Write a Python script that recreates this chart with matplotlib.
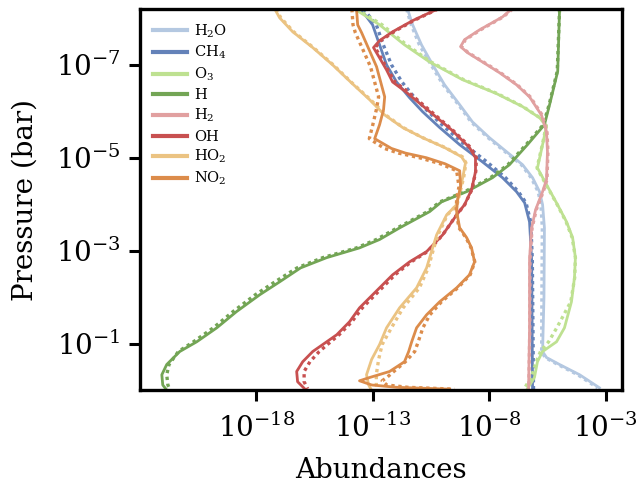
import numpy as np
import matplotlib
matplotlib.use("Agg")
import matplotlib.pyplot as plt
from matplotlib.ticker import FixedLocator, LogFormatterMathtext, NullLocator

plt.rcParams['font.family'] = 'DejaVu Serif'
plt.rcParams['mathtext.fontset'] = 'dejavuserif'

# species and colours (legend order)
species = ['H2O', 'CH4', 'O3', 'H', 'H2', 'OH', 'HO2', 'NO2']
labels = [r'$\mathrm{H_2O}$', r'$\mathrm{CH_4}$', r'$\mathrm{O_3}$', r'$\mathrm{H}$',
          r'$\mathrm{H_2}$', r'$\mathrm{OH}$', r'$\mathrm{HO_2}$', r'$\mathrm{NO_2}$']
colors = ['#b4c8e1', '#6482b9', '#bee191', '#73a555',
          '#e1a0a0', '#c85050', '#ebc382', '#dc8c4b']

# log10 pressure (bar) and log10 abundance
# solid = model 1, dotted = model 2
h2o_p = [-8.2, -7.86, -7.43, -7.0, -6.57, -6.14, -5.77, -5.43, -5.13, -4.85, -4.57, -4.27, -3.99, -3.49, -2.0, -0.83, -0.70, -0.55, -0.33, -0.05]
h2o_a = [-11.51, -11.29, -10.91, -10.43, -9.92, -9.27, -8.72, -7.99, -7.26, -6.57, -6.14, -5.84, -5.71, -5.63, -5.65, -5.71, -5.54, -4.98, -4.12, -3.27]
h2o_b = [-11.55, -11.35, -11.0, -10.5, -9.98, -9.32, -8.78, -8.05, -7.32, -6.62, -6.2, -5.9, -5.78, -5.72, -5.74, -5.75, -5.6, -5.05, -4.2, -3.35]

ch4_p = [-8.2, -7.86, -7.43, -7.0, -6.63, -6.29, -5.99, -5.65, -5.28, -4.91, -4.57, -4.27, -4.03, -3.62, -2.81, -0.05, 0.0]
ch4_a = [-13.52, -13.01, -12.71, -12.41, -11.98, -11.42, -10.86, -10.13, -9.27, -8.29, -7.43, -6.83, -6.48, -6.27, -6.18, -6.14, -6.14]
ch4_b = [-13.4, -12.85, -12.55, -12.2, -11.75, -11.2, -10.62, -9.9, -9.05, -8.1, -7.3, -6.75, -6.42, -6.22, -6.15, -6.1, -6.1]

o3_p = [-8.2, -7.86, -7.43, -7.06, -6.68, -6.38, -6.10, -5.86, -5.69, -5.28, -4.78, -4.42, -3.99, -3.62, -3.28, -2.85, -2.42, -1.90, -1.34, -1.04, -0.83, -0.61, -0.27, -0.03]
o3_a = [-13.78, -12.71, -11.64, -10.56, -9.15, -7.69, -6.57, -5.84, -5.54, -5.71, -5.93, -5.54, -5.07, -4.68, -4.42, -4.30, -4.34, -4.47, -4.77, -5.11, -5.71, -5.93, -6.06, -6.36]
o3_b = [-13.7, -12.6, -11.55, -10.5, -9.1, -7.65, -6.55, -5.82, -5.55, -5.72, -5.95, -5.56, -5.08, -4.7, -4.44, -4.3, -4.33, -4.5, -5.1, -5.45, -5.8, -5.98, -6.2, -6.5]

h_p = [-8.2, -6.86, -6.14, -5.71, -5.28, -4.85, -4.57, -4.27, -4.05, -3.84, -3.49, -3.24, -3.06, -2.85, -2.63, -2.33, -2.05, -1.69, -1.34, -1.04, -0.83, -0.55, -0.33, -0.11, 0.0]
h_a = [-4.98, -5.06, -5.41, -5.63, -6.36, -7.13, -7.86, -8.97, -10.05, -10.56, -11.85, -12.71, -13.57, -14.98, -16.1, -17.0, -17.86, -18.85, -19.70, -20.56, -21.29, -21.85, -22.06, -22.02, -21.85]
h_b = [-4.98, -5.08, -5.43, -5.68, -6.42, -7.2, -7.95, -9.05, -10.12, -10.65, -11.95, -12.85, -13.7, -15.15, -16.25, -17.2, -18.05, -19.0, -19.85, -20.7, -21.35, -21.75, -21.85, -21.8, -21.7]

h2_p = [-8.2, -8.03, -7.75, -7.54, -7.39, -7.26, -7.06, -6.83, -6.57, -6.31, -5.92, -5.56, -5.13, -4.53, -4.27, -3.88, -3.49, -2.81, -1.30, -0.05]
h2_a = [-7.04, -7.43, -8.42, -9.06, -9.23, -8.93, -8.29, -7.56, -6.83, -6.27, -5.76, -5.54, -5.50, -5.54, -5.71, -6.01, -6.18, -6.27, -6.27, -6.31]
h2_b = [-7.0, -7.4, -8.38, -9.02, -9.2, -8.9, -8.25, -7.52, -6.8, -6.24, -5.73, -5.52, -5.48, -5.52, -5.68, -5.98, -6.16, -6.25, -6.26, -6.3]

oh_p = [-8.2, -7.95, -7.71, -7.52, -7.37, -7.15, -6.89, -6.63, -6.44, -6.03, -5.60, -5.22, -5.0, -4.70, -4.31, -3.99, -3.77, -3.34, -2.98, -2.76, -2.48, -2.20, -2.05, -1.77, -1.47, -1.19, -0.98, -0.83, -0.61, -0.40, -0.18, -0.03]
oh_a = [-10.22, -11.29, -12.15, -12.71, -12.97, -12.71, -12.41, -12.15, -11.64, -10.65, -9.62, -8.85, -8.59, -8.59, -8.76, -9.06, -9.40, -10.00, -10.69, -11.42, -12.15, -12.71, -13.01, -13.57, -14.00, -14.55, -15.15, -15.58, -16.01, -16.27, -16.23, -15.93]
oh_b = [-10.2, -11.25, -12.1, -12.65, -12.9, -12.65, -12.35, -12.05, -11.55, -10.58, -9.58, -8.8, -8.55, -8.58, -8.75, -9.05, -9.4, -10.0, -10.65, -11.35, -12.05, -12.6, -12.9, -13.45, -13.9, -14.45, -14.95, -15.3, -15.7, -15.95, -15.95, -15.8]

ho2_p = [-8.2, -8.01, -7.71, -7.37, -7.0, -6.59, -6.25, -5.92, -5.65, -5.43, -5.22, -5.02, -4.89, -4.57, -4.27, -3.99, -3.77, -3.34, -3.06, -2.63, -2.20, -1.77, -1.34, -0.98, -0.66, -0.33, -0.11, -0.03]
ho2_a = [-17.21, -17.00, -16.44, -15.58, -14.73, -13.87, -13.14, -12.49, -11.72, -10.86, -9.92, -9.19, -9.02, -9.14, -9.27, -9.40, -9.83, -10.26, -10.43, -10.69, -11.12, -11.85, -12.41, -12.71, -13.05, -13.27, -13.18, -13.09]
ho2_b = [-17.15, -16.95, -16.4, -15.55, -14.7, -13.85, -13.1, -12.45, -11.7, -10.85, -9.9, -9.15, -9.0, -9.1, -9.25, -9.38, -9.8, -10.2, -10.38, -10.62, -11.0, -11.7, -12.2, -12.6, -12.75, -12.85, -12.85, -12.8]

no2_p = [-8.2, -7.86, -7.69, -6.96, -6.31, -6.03, -5.71, -5.41, -5.2, -5.1, -5.0, -4.87, -4.72, -4.38, -4.10, -3.84, -3.49, -3.28, -3.06, -2.76, -2.48, -2.20, -1.90, -1.62, -1.34, -1.04, -0.83, -0.61, -0.40, -0.27, -0.20, -0.11, -0.06, -0.02]
no2_a = [-13.70, -13.65, -13.48, -12.84, -12.49, -12.54, -12.71, -12.92, -12.2, -11.6, -10.7, -9.9, -9.27, -9.23, -9.36, -9.40, -9.27, -8.97, -8.76, -8.63, -8.85, -9.40, -10.13, -10.69, -11.12, -11.33, -11.46, -11.64, -12.28, -13.14, -13.57, -13.05, -11.98, -9.70]
no2_b = [-13.9, -13.85, -13.75, -13.1, -12.75, -12.85, -13.0, -13.15, -12.5, -11.9, -11.0, -10.1, -9.4, -9.3, -9.4, -9.42, -9.3, -9.0, -8.78, -8.62, -8.82, -9.35, -10.05, -10.55, -10.85, -11.05, -11.2, -11.6, -12.1, -12.4, -12.6, -12.4, -11.5, -9.5]

profiles = {
    'H2O': (h2o_p, h2o_a, h2o_b),
    'CH4': (ch4_p, ch4_a, ch4_b),
    'O3': (o3_p, o3_a, o3_b),
    'H': (h_p, h_a, h_b),
    'H2': (h2_p, h2_a, h2_b),
    'OH': (oh_p, oh_a, oh_b),
    'HO2': (ho2_p, ho2_a, ho2_b),
    'NO2': (no2_p, no2_a, no2_b),
}

fig = plt.figure(figsize=(6.39, 4.87), dpi=100)
ax = fig.add_axes([0.219, 0.199, 0.754, 0.7825])

for sp, lab, col in zip(species, labels, colors):
    p, a, b = profiles[sp]
    p = 10.0 ** np.array(p)
    ax.plot(10.0 ** np.array(a), p, color=col, lw=2.0, label=lab)
    ax.plot(10.0 ** np.array(b), p, color=col, lw=2.4, ls=(0, (1, 1.1)))

ax.set_xscale('log')
ax.set_yscale('log')
ax.set_xlim(1e-23, 10 ** -2.31)
ax.set_ylim(1.0, 10 ** -8.2)

ax.xaxis.set_major_locator(FixedLocator([1e-18, 1e-13, 1e-8, 1e-3]))
ax.yaxis.set_major_locator(FixedLocator([1e-7, 1e-5, 1e-3, 1e-1]))
ax.xaxis.set_major_formatter(LogFormatterMathtext())
ax.yaxis.set_major_formatter(LogFormatterMathtext())
ax.xaxis.set_minor_locator(NullLocator())
ax.yaxis.set_minor_locator(NullLocator())
ax.tick_params(which='major', direction='out', length=8, width=2.2, labelsize=20, pad=6)
ax.tick_params(axis='x', pad=9)

for s in ax.spines.values():
    s.set_linewidth(2.4)

ax.set_xlabel('Abundances', fontsize=20, labelpad=10)
ax.set_ylabel('Pressure (bar)', fontsize=20, labelpad=12)

leg = ax.legend(loc='upper left', frameon=False, fontsize=10.5, handlelength=2.3,
                handletextpad=0.5, labelspacing=0.3)
for line in leg.get_lines():
    line.set_linewidth(3.0)

fig.savefig('out.png', dpi=100)
